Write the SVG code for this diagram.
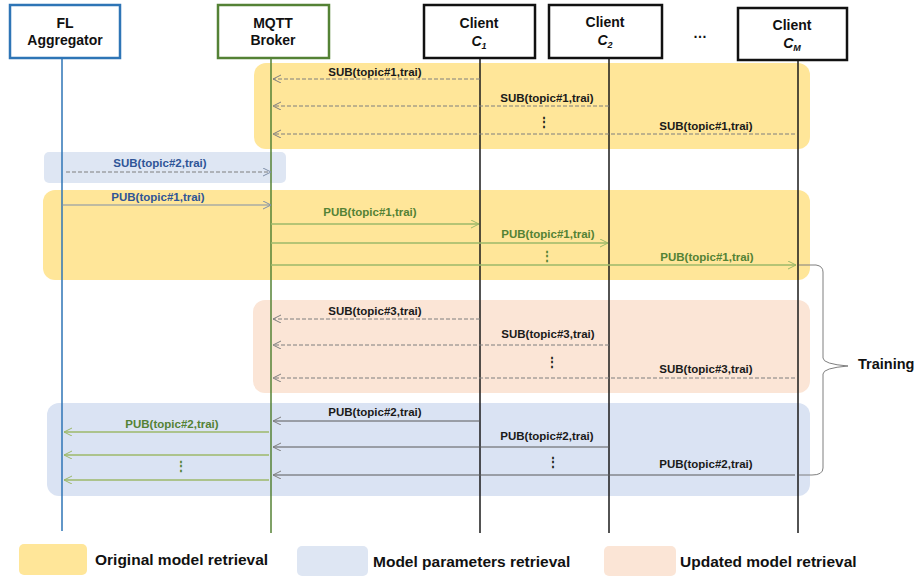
<svg xmlns="http://www.w3.org/2000/svg" width="919" height="576" viewBox="0 0 919 576">
<style>
.nodebox{fill:#fff;stroke-width:2.5}
.nt{font-family:"Liberation Sans",Arial,sans-serif;font-weight:bold;font-size:14px;text-anchor:middle;fill:#111}
.lbl{font-family:"Liberation Sans",Arial,sans-serif;font-weight:bold;font-size:11.5px;text-anchor:middle}
.dk{fill:#1a1a1a}
.bl{fill:#2F5597}
.gr{fill:#548235}
.dash{stroke:#7f7f7f;stroke-width:1;stroke-dasharray:4 2;fill:none}
.solid{stroke:#595959;stroke-width:1;fill:none}
.gline{stroke:#9CB86A;stroke-width:1.3;fill:none}
.bline{stroke:#7F8FA9;stroke-width:1;fill:none}
.leg{font-family:"Liberation Sans",Arial,sans-serif;font-weight:bold;font-size:15.5px;fill:#111}
.trn{font-family:"Liberation Sans",Arial,sans-serif;font-weight:bold;font-size:14.5px;fill:#111}
.dots{font-family:"Liberation Sans",Arial,sans-serif;font-weight:bold;font-size:12px;text-anchor:middle}
</style>
<defs>
<marker id="ag" markerWidth="10" markerHeight="10" refX="8" refY="4" orient="auto" markerUnits="userSpaceOnUse"><path d="M0,0 L8,4 L0,8" fill="none" stroke="#7f7f7f" stroke-width="1"/></marker>
<marker id="agr" markerWidth="10" markerHeight="10" refX="8" refY="4" orient="auto" markerUnits="userSpaceOnUse"><path d="M0,0 L8,4 L0,8" fill="none" stroke="#9CB86A" stroke-width="1"/></marker>
<marker id="ab" markerWidth="10" markerHeight="10" refX="8" refY="4" orient="auto" markerUnits="userSpaceOnUse"><path d="M0,0 L8,4 L0,8" fill="none" stroke="#7F8FA9" stroke-width="1"/></marker>
</defs>
<rect width="919" height="576" fill="#fff"/>

<!-- bands -->
<g id="bands">
<rect x="254" y="63" width="556" height="86" rx="12" fill="#FFE699"/>
<rect x="44" y="152" width="242" height="31" rx="5" fill="#DEE6F3"/>
<rect x="43" y="190" width="767" height="90" rx="12" fill="#FFE699"/>
<rect x="253" y="300" width="557" height="93" rx="12" fill="#FBE5D6"/>
<rect x="47" y="403" width="763" height="93" rx="12" fill="#DAE3F3"/>
</g>

<!-- lifelines -->
<g id="lifelines">
<line x1="62" y1="59" x2="62" y2="531" stroke="#2E75B6" stroke-width="1.5"/>
<line x1="271" y1="59" x2="271" y2="533" stroke="#548235" stroke-width="1.5"/>
<line x1="480" y1="59" x2="480" y2="533" stroke="#1a1a1a" stroke-width="1.5"/>
<line x1="609" y1="59" x2="609" y2="533" stroke="#1a1a1a" stroke-width="1.5"/>
<line x1="798" y1="61" x2="798" y2="533" stroke="#1a1a1a" stroke-width="1.5"/>
</g>

<g id="n-aggregator">
<rect class="nodebox" x="10" y="5" width="110" height="53" stroke="#2E75B6"/>
<text class="nt" x="65" y="28">FL</text>
<text class="nt" x="65" y="45">Aggregator</text>
</g>
<g id="n-broker">
<rect class="nodebox" x="218" y="5" width="111" height="53" stroke="#548235"/>
<text class="nt" x="273" y="28">MQTT</text>
<text class="nt" x="273" y="45">Broker</text>
</g>
<g id="n-c1">
<rect class="nodebox" x="424" y="5" width="111" height="53" stroke="#111"/>
<text class="nt" x="479" y="28">Client</text>
<text class="nt" x="479" y="46" font-style="italic">C<tspan font-size="9" dy="3">1</tspan></text>
</g>
<g id="n-c2">
<rect class="nodebox" x="549" y="5" width="113" height="53" stroke="#111"/>
<text class="nt" x="605" y="27">Client</text>
<text class="nt" x="605" y="45" font-style="italic">C<tspan font-size="9" dy="3">2</tspan></text>
</g>
<g id="n-ellipsis">
<text class="nt" x="700" y="38">…</text>
</g>
<g id="n-cm">
<rect class="nodebox" x="738" y="8" width="109" height="52" stroke="#111"/>
<text class="nt" x="792" y="30">Client</text>
<text class="nt" x="792" y="48" font-style="italic">C<tspan font-size="9" dy="3">M</tspan></text>
</g>

<g id="connectors">
<line class="dash" x1="480" y1="79" x2="273" y2="79" marker-end="url(#ag)"/>
<line class="dash" x1="609" y1="106" x2="273" y2="106" marker-end="url(#ag)"/>
<line class="dash" x1="795" y1="134" x2="273" y2="134" marker-end="url(#ag)"/>
<line class="dash" x1="66" y1="172" x2="271" y2="172" stroke="#8496B0" marker-end="url(#ab)"/>
<line class="bline" x1="62" y1="205" x2="271" y2="205" marker-end="url(#ab)"/>
<line class="gline" x1="271" y1="224" x2="479" y2="224" marker-end="url(#agr)"/>
<line class="gline" x1="271" y1="243" x2="608" y2="243" marker-end="url(#agr)"/>
<line class="gline" x1="271" y1="265" x2="796" y2="265" marker-end="url(#agr)"/>
<line class="dash" x1="480" y1="319" x2="273" y2="319" marker-end="url(#ag)"/>
<line class="dash" x1="609" y1="345" x2="273" y2="345" marker-end="url(#ag)"/>
<line class="dash" x1="795" y1="378" x2="273" y2="378" marker-end="url(#ag)"/>
<line class="solid" x1="480" y1="421" x2="273" y2="421" marker-end="url(#ag)"/>
<line class="solid" x1="609" y1="447" x2="273" y2="447" marker-end="url(#ag)"/>
<line class="solid" x1="795" y1="475" x2="273" y2="475" marker-end="url(#ag)"/>
<line class="gline" x1="269" y1="432" x2="64" y2="432" marker-end="url(#agr)"/>
<line class="gline" x1="269" y1="455" x2="64" y2="455" marker-end="url(#agr)"/>
<line class="gline" x1="269" y1="480" x2="64" y2="480" marker-end="url(#agr)"/>
<path d="M799,265 L816,265 Q823,266 823,272 L823,358 Q823,364 848,366 Q823,368 823,374 L823,468 Q823,475 812,475 L799,475" fill="none" stroke="#7f7f7f" stroke-width="1"/>
</g>

<g id="labels">
<text class="lbl dk" x="375" y="76">SUB(topic#1,trai)</text>
<text class="lbl dk" x="547" y="102">SUB(topic#1,trai)</text>
<text class="lbl dk" x="706" y="130">SUB(topic#1,trai)</text>
<text class="dots dk" x="544" y="126">⋮</text>

<text class="lbl bl" x="160" y="167">SUB(topic#2,trai)</text>
<text class="lbl bl" x="158" y="201">PUB(topic#1,trai)</text>
<text class="lbl gr" x="370" y="216">PUB(topic#1,trai)</text>
<text class="lbl gr" x="548" y="238">PUB(topic#1,trai)</text>
<text class="lbl gr" x="707" y="261">PUB(topic#1,trai)</text>
<text class="dots gr" x="547" y="260">⋮</text>

<text class="lbl dk" x="375" y="315">SUB(topic#3,trai)</text>
<text class="lbl dk" x="548" y="338">SUB(topic#3,trai)</text>
<text class="lbl dk" x="706" y="373">SUB(topic#3,trai)</text>
<text class="dots dk" x="552" y="366">⋮</text>

<text class="lbl dk" x="375" y="416">PUB(topic#2,trai)</text>
<text class="lbl dk" x="547" y="440">PUB(topic#2,trai)</text>
<text class="lbl dk" x="706" y="468">PUB(topic#2,trai)</text>
<text class="dots dk" x="553" y="466">⋮</text>
<text class="lbl gr" x="172" y="428">PUB(topic#2,trai)</text>
<text class="dots gr" x="181" y="470">⋮</text>

<text class="trn" x="858" y="369">Training</text>
</g>

<g id="legend">
<rect x="19" y="544" width="68" height="31" rx="5" fill="#FFE699"/>
<text class="leg" x="95" y="565">Original model retrieval</text>
<rect x="297" y="546" width="71" height="30" rx="5" fill="#DEE6F3"/>
<text class="leg" x="373" y="567">Model parameters retrieval</text>
<rect x="604" y="546" width="72" height="30" rx="5" fill="#FBE5D6"/>
<text class="leg" x="680" y="567">Updated model retrieval</text>
</g>
</svg>
